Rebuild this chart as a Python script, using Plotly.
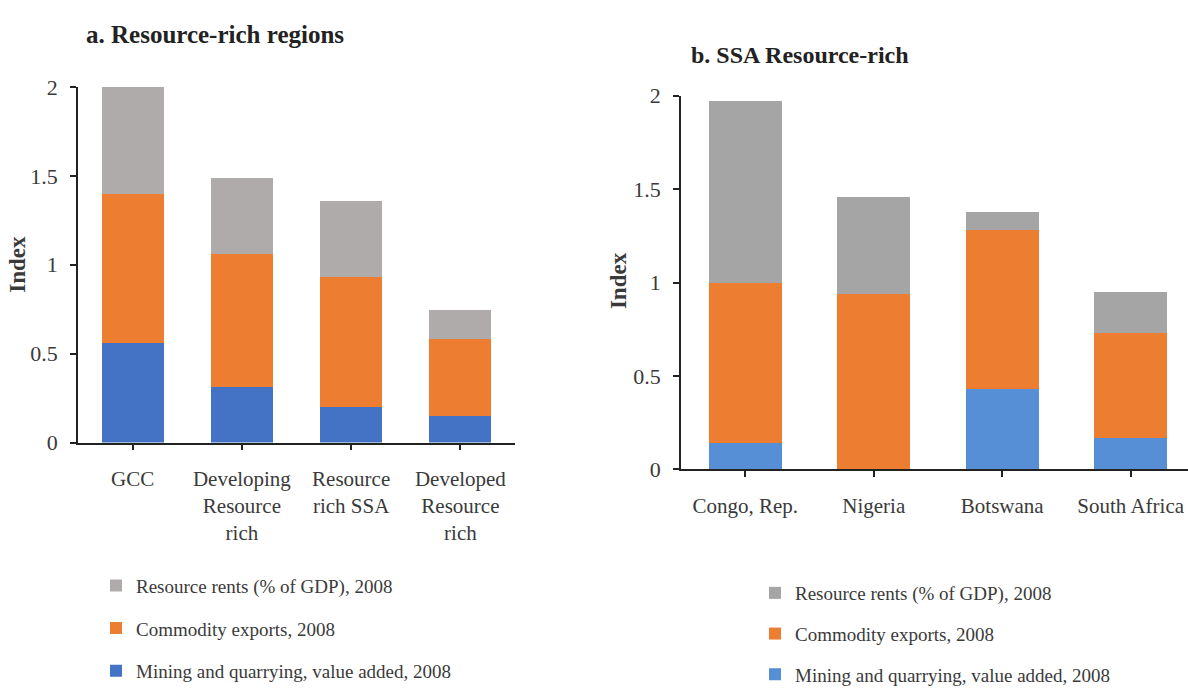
import plotly.graph_objects as go

# ---- data ----
series_names = ["Resource rents (% of GDP), 2008", "Commodity exports, 2008",
                "Mining and quarrying, value added, 2008"]

cats_a = ["GCC", "Developing<br>Resource<br>rich", "Resource<br>rich SSA", "Developed<br>Resource<br>rich"]
rents_a = [0.60, 0.43, 0.43, 0.16]
exports_a = [0.84, 0.75, 0.73, 0.435]
mining_a = [0.56, 0.31, 0.20, 0.15]

cats_b = ["Congo, Rep.", "Nigeria", "Botswana", "South Africa"]
rents_b = [0.97, 0.52, 0.095, 0.22]
exports_b = [0.86, 0.94, 0.85, 0.56]
mining_b = [0.14, 0.0, 0.43, 0.17]

y_ticks = [0, 0.5, 1, 1.5, 2]
y_ticktext = ["0", "0.5", "1", "1.5", "2"]

# ---- style ----
FONT = "Liberation Serif"
TXT = "#3a3a3a"
cols_a = {"rents": "#AFABAB", "exports": "#ED7D31", "mining": "#4472C4"}
cols_b = {"rents": "#A5A5A5", "exports": "#ED7D31", "mining": "#568FD6"}

W, H = 1188, 694

fig = go.Figure()

def add_panel(cats, mining, exports, rents, cols, xa, ya, leg):
    for name, vals, key, rank in [(series_names[2], mining, "mining", 3),
                                  (series_names[1], exports, "exports", 2),
                                  (series_names[0], rents, "rents", 1)]:
        fig.add_trace(go.Bar(x=cats, y=vals, name=name, marker_color=cols[key],
                             marker_line_width=0, xaxis=xa, yaxis=ya,
                             legend=leg, legendrank=rank,
                             legendgroup=leg + key))

add_panel(cats_a, mining_a, exports_a, rents_a, cols_a, "x", "y", "legend")
add_panel(cats_b, mining_b, exports_b, rents_b, cols_b, "x2", "y2", "legend2")

def px_x(v):
    return v / W

def px_y(v):
    return 1 - v / H

line_common = dict(showline=True, linecolor="#222222", linewidth=1.7,
                   ticks="outside", tickcolor="#222222", ticklen=6, tickwidth=1.5,
                   showgrid=False, zeroline=False)
xfont = dict(family=FONT, size=21, color=TXT)
yfont = dict(family=FONT, size=22, color=TXT)

fig.update_layout(
    width=W, height=H,
    margin=dict(l=0, r=0, t=0, b=0),
    paper_bgcolor="white", plot_bgcolor="white",
    barmode="stack", bargap=0.433,
    showlegend=True,
    xaxis=dict(domain=[px_x(78), px_x(515)], anchor="y", type="category",
               range=[-0.5, 3.5], tickfont=xfont, ticklabelstandoff=10, **line_common),
    yaxis=dict(domain=[px_y(448), px_y(78)], anchor="x", range=[0, 2],
               tickvals=y_ticks, ticktext=y_ticktext, tickfont=yfont,
               ticklabelstandoff=8, **line_common),
    xaxis2=dict(domain=[px_x(681), 1.0], anchor="y2", type="category",
                range=[-0.5, 3.446], tickfont=xfont, ticklabelstandoff=10, **line_common),
    yaxis2=dict(domain=[px_y(476), px_y(87)], anchor="x2", range=[0, 2],
                tickvals=y_ticks, ticktext=y_ticktext, tickfont=yfont,
                ticklabelstandoff=8, **line_common),
    legend=dict(x=px_x(96), y=px_y(577), xanchor="left", yanchor="top",
                font=dict(family=FONT, size=19, color=TXT),
                tracegroupgap=15, itemwidth=30, bgcolor="rgba(0,0,0,0)"),
    legend2=dict(x=px_x(755), y=px_y(585), xanchor="left", yanchor="top",
                 font=dict(family=FONT, size=19, color=TXT),
                 tracegroupgap=13, itemwidth=30, bgcolor="rgba(0,0,0,0)"),
)

annos = [
    dict(text="<b>a. Resource-rich regions</b>", x=px_x(84), y=px_y(23),
         xanchor="left", yanchor="middle", font=dict(family=FONT, size=25, color="#222222")),
    dict(text="<b>b. SSA Resource-rich</b>", x=px_x(689), y=px_y(45),
         xanchor="left", yanchor="middle", font=dict(family=FONT, size=24, color="#222222")),
    dict(text="<b>Index</b>", x=px_x(18), y=px_y(263), textangle=-90,
         xanchor="center", yanchor="middle", font=dict(family=FONT, size=23, color=TXT)),
    dict(text="<b>Index</b>", x=px_x(618), y=px_y(280), textangle=-90,
         xanchor="center", yanchor="middle", font=dict(family=FONT, size=23, color=TXT)),
]
for a in annos:
    fig.add_annotation(xref="paper", yref="paper", showarrow=False, **a)

fig.write_html("out.html", config={"displayModeBar": False},
               post_script="document.body.style.margin='0px';")
